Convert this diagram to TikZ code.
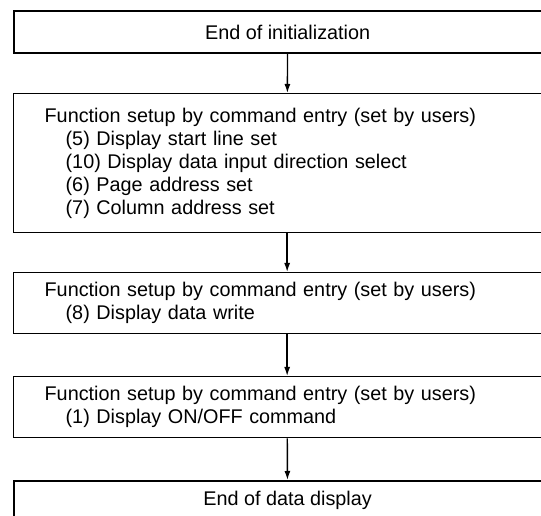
\documentclass[tikz,border=0pt]{standalone}
\usepackage{fontspec}
\setmainfont{Liberation Sans}
\usetikzlibrary{arrows.meta}
\tikzset{
  endbox/.style={draw, line width=2.2pt, anchor=north west, minimum width=547pt,
    inner ysep=0pt, font=\fontsize{19.8}{23}\selectfont},
  setupbox/.style={draw, line width=1.3pt, anchor=north west, text width=485pt,
    inner xsep=31pt, inner ysep=0pt, align=left, font=\fontsize{19.8}{23}\selectfont},
  flow/.style={line width=1.4pt, -{Latex[length=9pt,width=6pt]}}
}
\newcommand{\sub}{\hspace*{21pt}}
\begin{document}
\begin{tikzpicture}[x=1pt,y=1pt]
                \useasboundingbox (0,0) rectangle (541,516);
                \clip (0,0) rectangle (541,516);
                % boxes
                \node[endbox, minimum height=42pt] (init) at (13,506) {End of initialization};
                \node[setupbox, minimum height=139pt] (setupA) at (13,423)
                  {Function setup by command entry (set by users)\\
                   \sub(5) Display start line set\\
                   \sub(10) Display data input direction select\\
                   \sub(6) Page address set\\
                   \sub(7) Column address set};
                \node[setupbox, minimum height=61pt] (setupB) at (13,244)
                  {Function setup by command entry (set by users)\\
                   \sub(8) Display data write};
                \node[setupbox, minimum height=61pt] (setupC) at (13,140)
                  {Function setup by command entry (set by users)\\
                   \sub(1) Display ON/OFF command};
                \node[endbox, inner ysep=10pt, text height=14pt, text depth=40pt] (done) at (13,36) {End of data display};
                % arrows
                \draw[flow] (init) -- (setupA);
                \draw[flow] (setupA) -- (setupB);
                \draw[flow] (setupB) -- (setupC);
                \draw[flow] (setupC) -- (done);
              \end{tikzpicture}
\end{document}
